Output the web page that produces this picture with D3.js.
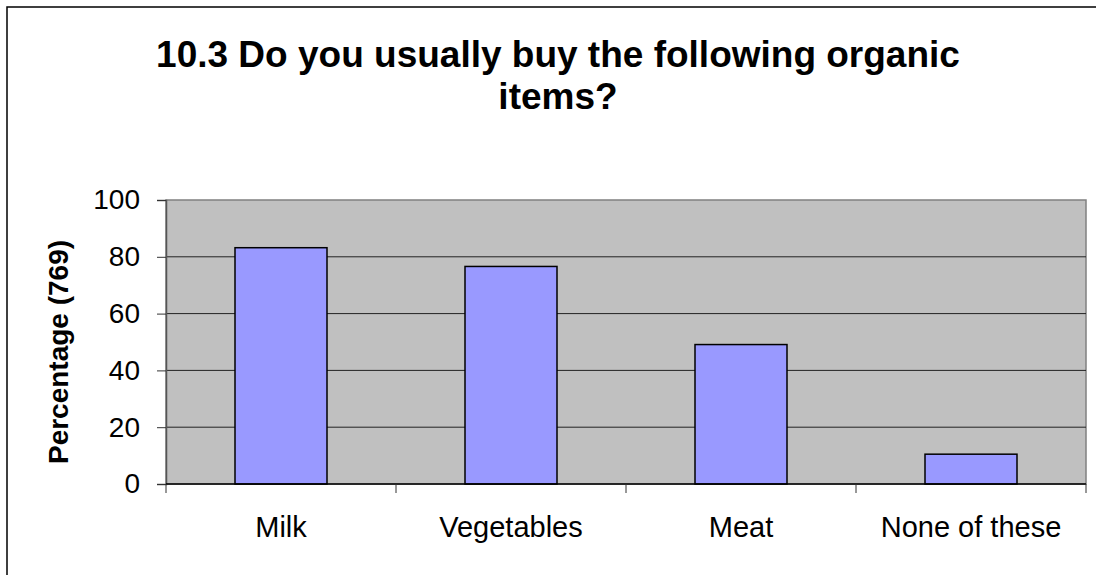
<!DOCTYPE html>
<html>
<head>
<meta charset="utf-8">
<script src="https://cdn.jsdelivr.net/npm/d3@7"></script>
<style>
  body { margin: 0; background: #fff; }
  text { font-family: "Liberation Sans", Arial, sans-serif; fill: #000; }
</style>
</head>
<body>
<div id="chart"></div>
<script>
// survey answers, percent of 769 respondents
const categories = ["Milk", "Vegetables", "Meat", "None of these"];
const values = [83.2, 76.6, 49.1, 10.5];
const yTicks = [0, 20, 40, 60, 80, 100];
const titleLines = ["10.3 Do you usually buy the following organic", "items?"];
const yLabel = "Percentage (769)";

const W = 1096, H = 575;
const margin = {top: 200, right: 10, bottom: 91, left: 166};
const width = 1086 - margin.left;
const height = 484 - margin.top;

const svg = d3.select("#chart").append("svg")
    .attr("width", W)
    .attr("height", H);

// outer chart frame (runs off the right and bottom edges)
svg.append("rect")
    .attr("x", 7).attr("y", 7)
    .attr("width", W + 20).attr("height", H + 20)
    .attr("fill", "#fff")
    .attr("stroke", "#000")
    .attr("stroke-width", 1.5);

svg.append("text")
    .attr("x", 558)
    .attr("y", 67)
    .attr("text-anchor", "middle")
    .style("font-weight", "bold")
    .style("font-size", "37px")
    .selectAll("tspan")
    .data(titleLines)
    .enter()
    .append("tspan")
    .attr("x", 558)
    .attr("dy", (d, i) => i === 0 ? 0 : 42)
    .text(d => d);

const g = svg.append("g")
    .attr("transform", `translate(${margin.left},${margin.top})`);

const x = d3.scaleBand()
    .domain(categories)
    .range([0, width])
    .paddingInner(0.6)
    .paddingOuter(0.3);

const y = d3.scaleLinear()
    .domain([0, 100])
    .range([height, 0]);

// plot area
g.append("rect")
    .attr("width", width)
    .attr("height", height)
    .attr("fill", "#c0c0c0")
    .attr("stroke", "#808080")
    .attr("stroke-width", 1.5);

g.selectAll(".grid")
    .data(yTicks.filter(d => d > 0 && d < 100))
    .enter()
    .append("line")
    .attr("class", "grid")
    .attr("x1", 0).attr("x2", width)
    .attr("y1", d => y(d)).attr("y2", d => y(d))
    .attr("stroke", "#222")
    .attr("stroke-width", 1);

g.selectAll(".bar")
    .data(values)
    .enter()
    .append("rect")
    .attr("class", "bar")
    .attr("x", (d, i) => x(categories[i]))
    .attr("y", d => y(d))
    .attr("width", x.bandwidth())
    .attr("height", d => height - y(d))
    .attr("fill", "#9999ff")
    .attr("stroke", "#000")
    .attr("stroke-width", 1.5);

// y axis
const yAxis = g.append("g")
    .call(d3.axisLeft(y).tickValues(yTicks).tickSize(9).tickPadding(17));
yAxis.select(".domain").attr("stroke", "#555").attr("stroke-width", 1.5);
yAxis.selectAll(".tick line").attr("stroke", "#333");
yAxis.selectAll("text")
    .style("font-size", "28px")
    .style("font-family", "'Liberation Sans', Arial, sans-serif");

// x axis: ticks at category boundaries
const step = x.step();
const xAxis = g.append("g").attr("transform", `translate(0,${height})`);
xAxis.append("line")
    .attr("x1", 0).attr("x2", width)
    .attr("stroke", "#000").attr("stroke-width", 1.5);
xAxis.selectAll(".xtick")
    .data(d3.range(categories.length + 1))
    .enter()
    .append("line")
    .attr("x1", i => i * step).attr("x2", i => i * step)
    .attr("y1", 0).attr("y2", 9)
    .attr("stroke", "#333");
xAxis.selectAll(".xlab")
    .data(categories)
    .enter()
    .append("text")
    .attr("x", d => x(d) + x.bandwidth() / 2)
    .attr("y", 53)
    .attr("text-anchor", "middle")
    .style("font-size", "29px")
    .text(d => d);

svg.append("text")
    .attr("transform", `translate(68, 352) rotate(-90)`)
    .attr("text-anchor", "middle")
    .style("font-weight", "bold")
    .style("font-size", "28px")
    .text(yLabel);
</script>
</body>
</html>
